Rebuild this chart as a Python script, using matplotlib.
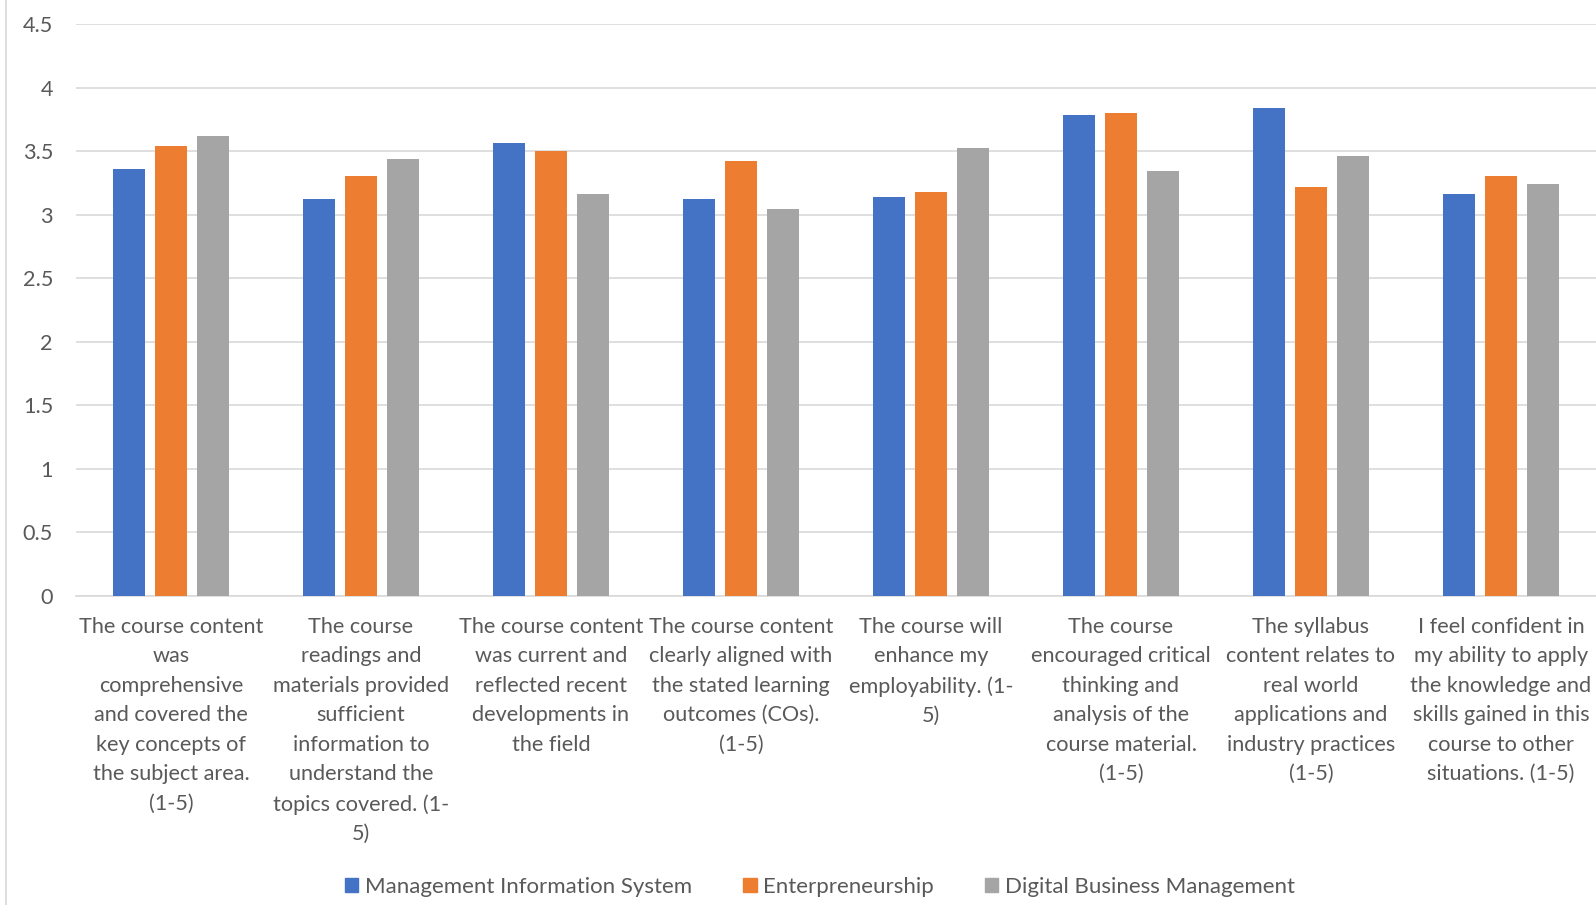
import numpy as np
import matplotlib.pyplot as plt
from matplotlib.lines import Line2D

# survey items (Excel-style wrapped labels) and mean scores per programme
questions = [
    "The course content\nwas\ncomprehensive\nand covered the\nkey concepts of\nthe subject area.\n(1-5)",
    "The course\nreadings and\nmaterials provided\nsufficient\ninformation to\nunderstand the\ntopics covered. (1-\n5)",
    "The course content\nwas current and\nreflected recent\ndevelopments in\nthe field",
    "The course content\nclearly aligned with\nthe stated learning\noutcomes (COs).\n(1-5)",
    "The course will\nenhance my\nemployability. (1-\n5)",
    "The course\nencouraged critical\nthinking and\nanalysis of the\ncourse material.\n(1-5)",
    "The syllabus\ncontent relates to\nreal world\napplications and\nindustry practices\n(1-5)",
    "I feel confident in\nmy ability to apply\nthe knowledge and\nskills gained in this\ncourse to other\nsituations. (1-5)",
]
mis = [3.36, 3.12, 3.56, 3.12, 3.14, 3.78, 3.84, 3.16]
ent = [3.54, 3.30, 3.50, 3.42, 3.18, 3.80, 3.22, 3.30]
dbm = [3.62, 3.44, 3.16, 3.04, 3.52, 3.34, 3.46, 3.24]
series = ["Management Information System", "Enterpreneurship", "Digital Business Management"]
yticks = [0, 0.5, 1, 1.5, 2, 2.5, 3, 3.5, 4, 4.5]

colors = ["#4472C4", "#ED7D31", "#A5A5A5"]
text_col = "#595959"
grid_col = "#D9D9D9"
plt.rcParams['font.family'] = ['Lato', 'DejaVu Sans']

W, H = 1596, 905
fig = plt.figure(figsize=(W / 100, H / 100), dpi=100)
ax = fig.add_axes([76 / W, (H - 595.5) / H, 1520 / W, 571.5 / H])

x = np.arange(len(questions)) + 0.5
width = 0.172
offs = [-0.221, 0, 0.221]
for vals, off, col in zip([mis, ent, dbm], offs, colors):
    ax.bar(x + off, vals, width, color=col, zorder=3)

ax.set_xlim(0, len(questions))
ax.set_ylim(0, 4.5)
ax.set_yticks(yticks)
ax.set_yticklabels([f"{v:g}" for v in yticks])
ax.yaxis.grid(True, color=grid_col, linewidth=1.2, zorder=0)
ax.set_axisbelow(True)
for s in ["left", "right", "top"]:
    ax.spines[s].set_visible(False)
ax.spines["bottom"].set_color(grid_col)
ax.spines["bottom"].set_linewidth(1.2)

ax.set_xticks(x)
ax.set_xticklabels(questions, fontsize=15.6, color=text_col, linespacing=1.59)
ax.tick_params(axis="x", length=0, pad=15.5)
ax.tick_params(axis="y", length=0, pad=16.5, labelsize=15.6, labelcolor=text_col)

# chart area border on the left
fig.add_artist(Line2D([6 / W, 6 / W], [0, 1], color=grid_col, linewidth=1.2))

handles = [plt.Rectangle((0, 0), 1, 1, color=c) for c in colors]
fig.legend(handles, series, loc="center", bbox_to_anchor=(820 / W, (H - 887) / H),
           ncol=3, frameon=False, fontsize=16, labelcolor=text_col,
           handlelength=0.6, handleheight=0.6, handletextpad=0.3, columnspacing=2.3)

fig.savefig("out.png", dpi=100)
